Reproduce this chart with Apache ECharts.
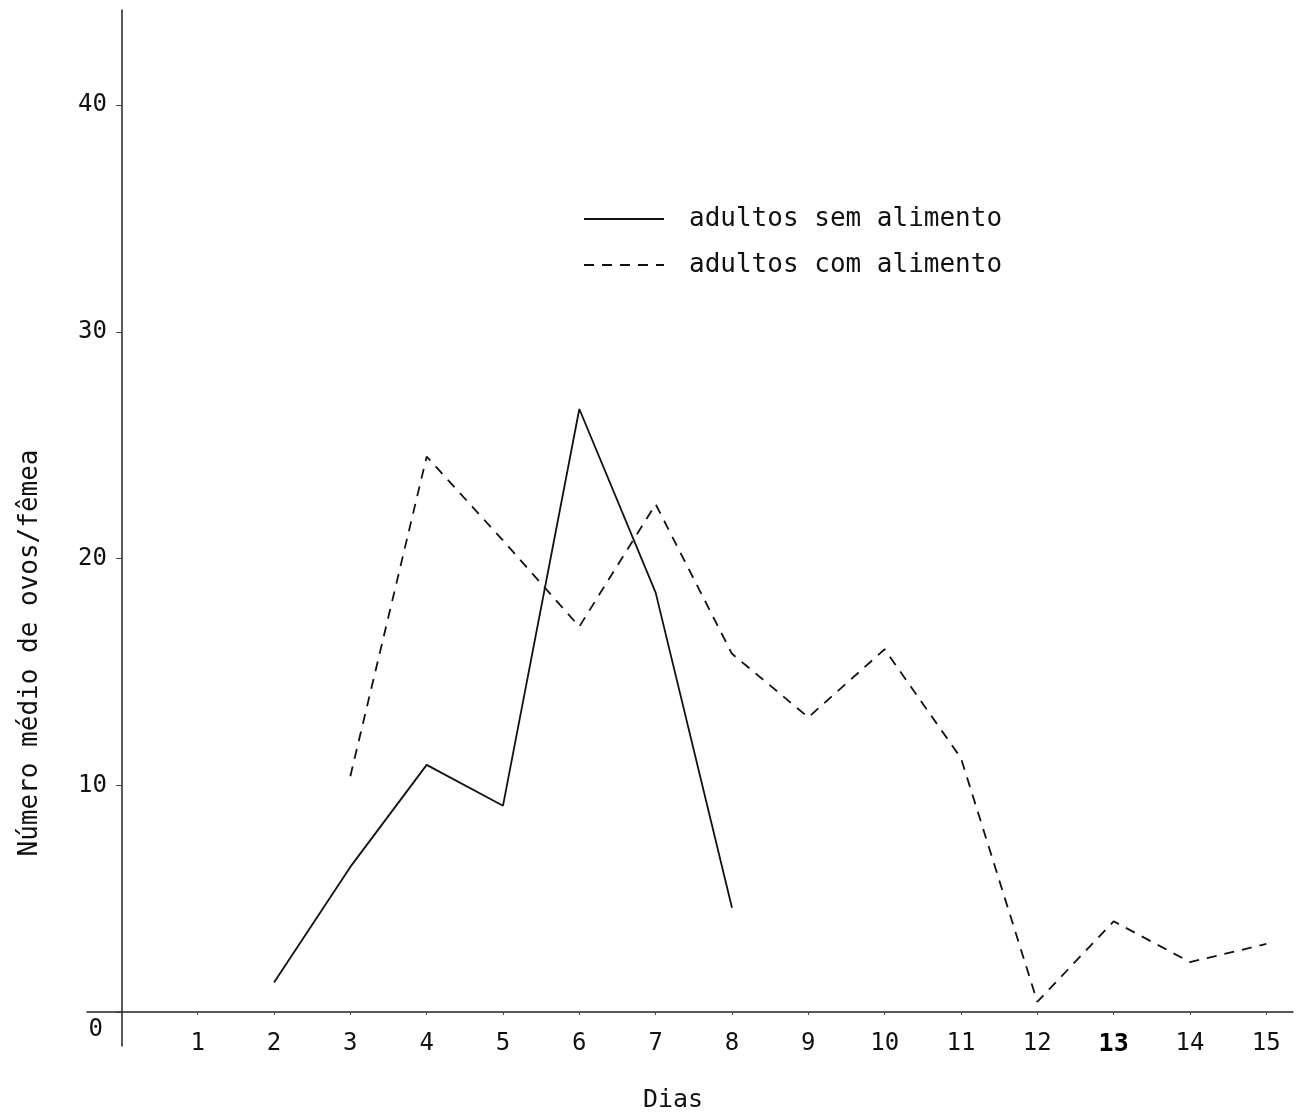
<!DOCTYPE html>
<html>
<head>
<meta charset="utf-8">
<script src="https://cdn.jsdelivr.net/npm/echarts@6/dist/echarts.min.js"></script>
<style>
  html, body { margin: 0; padding: 0; background: #fff; }
  #chart { width: 1300px; height: 1118px; }
</style>
</head>
<body>
<div id="chart"></div>
<script>
// ---- data ----
const xTickDays = [1, 2, 3, 4, 5, 6, 7, 8, 9, 10, 11, 12, 13, 14, 15];
const yTickValues = [0, 10, 20, 30, 40];

const semAlimentoDias = [2, 3, 4, 5, 6, 7, 8];
const semAlimentoOvos = [1.3, 6.4, 10.9, 9.1, 26.6, 18.5, 4.6];

const comAlimentoDias = [3, 4, 5, 6, 7, 8, 9, 10, 11, 12, 13, 14, 15];
const comAlimentoOvos = [10.4, 24.5, 20.8, 17.0, 22.4, 15.8, 13.0, 16.0, 11.2, 0.45, 4.0, 2.2, 3.0];

const seriesNames = ['adultos sem alimento', 'adultos com alimento'];
const xAxisName = 'Dias';
const yAxisName = 'Número médio de ovos/fêmea';

// ---- chart ----
const FONT = '"DejaVu Sans Mono", "Liberation Mono", monospace';
const INK = '#111';

function pairs(xs, ys) { return xs.map((x, i) => [x, ys[i]]); }

const chart = echarts.init(document.getElementById('chart'), null, { renderer: 'canvas' });

chart.setOption({
  backgroundColor: '#ffffff',
  animation: false,
  grid: { left: 87, right: 7, top: 10, bottom: 72, containLabel: false, outerBoundsMode: 'none' },
  legend: {
    orient: 'vertical',
    left: 578,
    top: 201,
    itemWidth: 80,
    itemHeight: 20,
    itemGap: 20,
    data: seriesNames,
    itemStyle: { opacity: 0 },
    textStyle: { fontFamily: FONT, fontSize: 26, color: INK, padding: [0, 0, 0, 20] }
  },
  xAxis: {
    type: 'value',
    min: -0.45,
    max: 15.35,
    name: xAxisName,
    nameLocation: 'middle',
    nameGap: 42,
    nameTextStyle: { fontFamily: FONT, fontSize: 25, color: INK, padding: [0, 34, 0, 0] },
    splitLine: { show: false },
    axisLine: { show: true, onZero: true, lineStyle: { color: '#222', width: 1.5 } },
    axisTick: { show: true, customValues: xTickDays, length: 3, lineStyle: { color: '#444', width: 1 } },
    axisLabel: {
      customValues: xTickDays,
      margin: -14,
      fontFamily: FONT,
      fontSize: 24,
      color: INK,
      formatter: v => (v === 13 ? '{b|13}' : String(v)),
      rich: { b: { fontFamily: FONT, fontSize: 25, fontWeight: 'bold', color: '#000' } }
    }
  },
  yAxis: {
    type: 'value',
    min: -1.5,
    max: 44.2,
    splitLine: { show: false },
    axisLine: { show: true, onZero: true, lineStyle: { color: '#222', width: 1.5 } },
    axisTick: { show: true, customValues: yTickValues, length: 5, lineStyle: { color: '#333', width: 1 } },
    axisLabel: {
      customValues: yTickValues,
      margin: -20,
      fontFamily: FONT,
      fontSize: 24,
      color: INK,
      formatter: v => (v === 0 ? '{z|0}' : String(v)),
      rich: { z: { fontFamily: FONT, fontSize: 24, color: INK, padding: [36, 4, 0, 0] } }
    }
  },
  graphic: [{
    type: 'text',
    x: 30,
    y: 653,
    rotation: Math.PI / 2,
    style: {
      text: yAxisName,
      fontFamily: FONT,
      fontSize: 26,
      fill: INK,
      align: 'center',
      verticalAlign: 'middle'
    }
  }],
  series: [
    {
      name: seriesNames[0],
      type: 'line',
      data: pairs(semAlimentoDias, semAlimentoOvos),
      symbol: 'none',
      lineStyle: { color: INK, width: 1.8, type: 'solid' },
      itemStyle: { color: INK }
    },
    {
      name: seriesNames[1],
      type: 'line',
      data: pairs(comAlimentoDias, comAlimentoOvos),
      symbol: 'none',
      lineStyle: { color: INK, width: 1.8, type: [10, 8] },
      itemStyle: { color: INK }
    }
  ]
});
</script>
</body>
</html>
